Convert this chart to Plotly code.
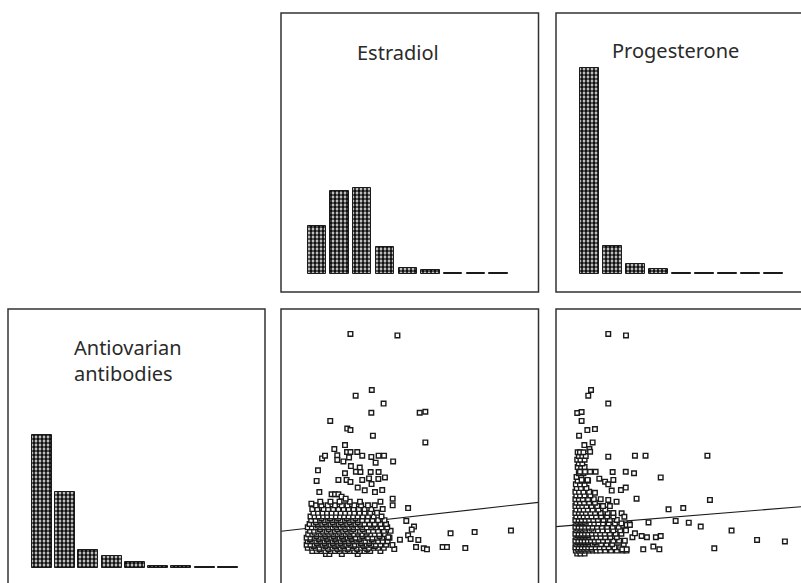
import plotly.graph_objects as go

W, H = 801, 583

# ---- histogram bin counts (nine equal-width bins per variable) ----
bin_mid = [0.5, 1.5, 2.5, 3.5, 4.5, 5.5, 6.5, 7.5, 8.5]
estradiol_counts = [96, 166, 172, 54, 12, 8, 3, 3, 3]
progesterone_counts = [412, 56, 20, 10, 3, 3, 3, 3, 3]
antibody_counts = [266, 152, 36, 24, 12, 3, 3, 1, 1]

# ---- least-squares fits: antibodies = intercept + slope * hormone ----
estradiol_fit = (1.115, 0.103)
progesterone_fit = (1.258, 0.076)

# ---- antibodies vs estradiol: dense core, one row per antibody level ----
e2_core_rows = [
    (0.08, [0.9, 1.05, 1.6, 2.3]),
    (0.20, [0.3, 0.5, 0.7, 0.88, 1.12, 1.3, 1.5, 1.75, 1.95, 2.15, 2.4, 2.6, 2.85, 3.3]),
    (0.27, [0.62, 1.02, 1.42, 1.85, 2.28, 2.72]),
    (0.33, [0.1, 0.28, 0.45, 0.62, 0.8, 0.98, 1.2, 1.38, 1.55, 1.72, 1.9, 2.08, 2.25, 2.45, 2.62, 2.8, 3.0, 3.2, 3.45]),
    (0.40, [0.36, 0.88, 1.3, 1.66, 2.12, 2.58, 3.05]),
    (0.46, [0.05, 0.22, 0.4, 0.58, 0.75, 0.92, 1.1, 1.28, 1.45, 1.62, 1.8, 2.0, 2.18, 2.35, 2.52, 2.7, 2.9, 3.1, 3.3, 3.55]),
    (0.53, [0.5, 0.84, 1.2, 1.54, 1.9, 2.44, 2.8]),
    (0.60, [0.1, 0.3, 0.48, 0.66, 0.84, 1.02, 1.2, 1.38, 1.56, 1.74, 1.92, 2.1, 2.28, 2.46, 2.64, 2.82, 3.0, 3.2, 3.4, 3.62]),
    (0.67, [0.2, 0.58, 0.94, 1.29, 1.66, 2.02, 2.36, 2.92]),
    (0.74, [0.05, 0.22, 0.4, 0.6, 0.78, 0.96, 1.14, 1.32, 1.5, 1.68, 1.86, 2.04, 2.22, 2.4, 2.58, 2.76, 2.95, 3.15, 3.38, 3.7]),
    (0.81, [0.48, 0.87, 1.24, 1.6, 1.96, 2.5, 3.26]),
    (0.88, [0.12, 0.3, 0.5, 0.68, 0.86, 1.05, 1.23, 1.41, 1.6, 1.78, 1.96, 2.14, 2.32, 2.5, 2.68, 2.86, 3.05, 3.25, 3.5]),
    (0.95, [0.4, 0.78, 1.14, 1.5, 1.88, 2.3, 2.7]),
    (1.02, [0.2, 0.38, 0.56, 0.75, 0.93, 1.12, 1.3, 1.48, 1.66, 1.84, 2.02, 2.2, 2.4, 2.6, 2.78, 2.98, 3.2, 3.45, 3.75]),
    (1.09, [0.64, 1.02, 1.4, 1.76, 2.1, 2.52]),
    (1.16, [0.1, 0.28, 0.46, 0.65, 0.83, 1.0, 1.2, 1.38, 1.56, 1.75, 1.93, 2.12, 2.3, 2.5, 2.7, 2.9, 3.1, 3.35, 3.6]),
    (1.23, [0.55, 0.92, 1.3, 1.66, 2.04, 2.42, 2.98]),
    (1.30, [0.18, 0.36, 0.55, 0.74, 0.92, 1.1, 1.28, 1.47, 1.65, 1.84, 2.02, 2.2, 2.4, 2.6, 2.82, 3.05, 3.3, 3.55]),
    (1.37, [0.46, 0.84, 1.2, 1.56, 1.94, 2.3]),
    (1.45, [0.25, 0.45, 0.64, 0.82, 1.0, 1.18, 1.37, 1.55, 1.74, 1.92, 2.1, 2.3, 2.5, 2.72, 2.95, 3.2, 3.48]),
    (1.52, [0.7, 1.08, 1.44, 1.82, 2.2]),
    (1.60, [0.22, 0.4, 0.58, 0.78, 0.96, 1.15, 1.34, 1.52, 1.7, 1.9, 2.1, 2.3, 2.52, 2.75, 3.0, 3.35]),
    (1.75, [0.35, 0.55, 0.75, 0.95, 1.15, 1.35, 1.55, 1.75, 1.95, 2.15, 2.38, 2.6, 2.85, 3.15]),
    (1.90, [0.3, 0.52, 0.8, 1.0, 1.22, 1.45, 1.68, 1.9, 2.12, 2.35, 2.6, 2.9, 3.4]),
    (2.05, [0.45, 0.7, 0.98, 1.3, 1.6, 1.85, 2.15, 2.45, 2.75, 3.05]),
    (2.20, [0.65, 1.1, 1.5, 1.95, 2.4, 3.3]),
]

# ---- antibodies vs estradiol: scattered observations (estradiol, antibodies) ----
e2_sparse = [
    (1.98, 8.99), (4.05, 8.93), (2.92, 6.72), (2.21, 6.49), (3.44, 6.17),
    (2.90, 5.80), (5.03, 5.80), (5.28, 5.84), (1.09, 5.47), (1.84, 5.16),
    (1.98, 5.10), (2.97, 4.87), (5.28, 4.60), (1.74, 4.49), (1.27, 4.33),
    (1.40, 4.08), (1.40, 3.89), (1.83, 4.21), (1.98, 4.21), (2.28, 4.21),
    (2.50, 4.06), (2.90, 4.01), (3.22, 4.06), (3.46, 4.06), (3.09, 3.78),
    (3.86, 3.83), (0.73, 3.95), (0.86, 4.06), (1.67, 3.83), (1.92, 3.99),
    (0.55, 3.47), (0.49, 3.04), (0.61, 2.59), (0.26, 2.12), (2.00, 3.64),
    (2.39, 3.58), (2.22, 3.41), (2.42, 3.40), (1.74, 3.35), (1.81, 3.08),
    (1.98, 3.00), (1.45, 3.08), (2.87, 3.40), (3.22, 3.40), (2.80, 3.14),
    (3.21, 3.12), (3.50, 3.18), (2.50, 3.08), (2.91, 2.91), (3.06, 2.59),
    (3.38, 2.67), (2.61, 2.66), (2.30, 2.77), (1.15, 2.50), (1.30, 2.50),
    (1.45, 2.50), (1.59, 2.40), (1.77, 2.32), (3.84, 2.32), (3.84, 2.05),
    (4.52, 1.94), (4.44, 1.42), (4.78, 1.19), (4.68, 1.07), (4.52, 0.84),
    (4.63, 0.69), (4.97, 0.65), (4.87, 0.36), (5.21, 0.31), (5.35, 0.27),
    (4.16, 0.66), (6.39, 0.92), (7.45, 0.97), (9.05, 1.03), (6.04, 0.36),
    (6.23, 0.36), (7.04, 0.32), (3.91, 0.28), (3.65, 0.76), (3.83, 0.45),
]

# ---- antibodies vs progesterone: dense core, one row per antibody level ----
pg_core_rows = [
    (0.10, [-0.02, 0.12, 0.3]),
    (0.22, [-0.08, 0.06, 0.2, 0.34, 0.5, 0.66, 0.82, 0.98, 1.2, 1.45, 1.7, 1.95, 2.12]),
    (0.29, [0.0, 0.14, 0.28, 0.42, 0.6]),
    (0.35, [-0.1, 0.04, 0.18, 0.32, 0.46, 0.6, 0.78, 0.95, 1.15, 1.35, 1.6, 1.85]),
    (0.48, [-0.06, 0.08, 0.22, 0.36, 0.5, 0.66, 0.84, 1.02, 1.25, 1.5, 2.0]),
    (0.55, [0.0, 0.15, 0.3, 0.45, 0.75]),
    (0.62, [-0.1, 0.03, 0.17, 0.3, 0.44, 0.58, 0.74, 0.9, 1.1, 1.3, 1.55, 1.8, 2.05]),
    (0.76, [-0.06, 0.08, 0.22, 0.36, 0.5, 0.66, 0.82, 1.0, 1.2, 1.42, 1.7]),
    (0.83, [0.0, 0.14, 0.28, 0.42]),
    (0.90, [-0.1, 0.04, 0.18, 0.32, 0.46, 0.62, 0.8, 0.98, 1.18, 1.4, 1.65, 1.9]),
    (1.04, [-0.06, 0.08, 0.22, 0.36, 0.52, 0.7, 0.88, 1.08, 1.3, 1.55, 1.85, 2.1]),
    (1.11, [0.0, 0.15, 0.3, 0.6]),
    (1.18, [-0.1, 0.04, 0.18, 0.33, 0.48, 0.65, 0.84, 1.05, 1.28, 1.52, 1.78]),
    (1.32, [-0.06, 0.08, 0.22, 0.38, 0.55, 0.72, 0.9, 1.1, 1.35, 1.62, 1.9, 2.25]),
    (1.39, [0.0, 0.14, 0.3]),
    (1.46, [-0.1, 0.04, 0.18, 0.34, 0.5, 0.68, 0.88, 1.12, 1.4, 1.7]),
    (1.60, [-0.06, 0.1, 0.26, 0.42, 0.6, 0.8, 1.02, 1.28, 1.55]),
    (1.74, [-0.1, 0.05, 0.2, 0.36, 0.55, 0.76, 1.0, 1.3, 1.55]),
    (1.88, [-0.06, 0.1, 0.26, 0.44, 0.65, 0.9, 1.2]),
    (2.02, [-0.1, 0.05, 0.2, 0.38, 0.6, 0.85, 1.1, 1.4]),
    (2.16, [-0.06, 0.1, 0.28, 0.5, 0.75]),
    (2.30, [-0.1, 0.05, 0.22, 0.45, 0.7, 1.0]),
    (2.45, [-0.06, 0.1, 0.3, 0.55]),
    (2.60, [-0.1, 0.06, 0.25, 0.5]),
    (2.75, [-0.04, 0.14, 0.38]),
    (2.90, [-0.08, 0.1, 0.3]),
    (3.05, [0.0, 0.2, 0.45]),
    (3.20, [-0.05, 0.15]),
    (3.35, [0.05, 0.25]),
    (3.48, [0.08, 0.22]),
    (3.60, [0.0, 0.15, 0.3]),
    (3.75, [0.05, 0.2]),
    (3.90, [-0.02, 0.12, 0.3]),
    (4.05, [0.05, 0.2, 0.35]),
    (4.20, [0.0, 0.1, 0.25]),
]

# ---- antibodies vs progesterone: scattered observations (progesterone, antibodies) ----
pg_sparse = [
    (1.33, 8.99), (2.10, 8.93), (0.58, 6.72), (0.46, 6.49), (1.33, 6.17),
    (-0.02, 5.79), (0.17, 5.83), (0.17, 5.47), (0.42, 5.10), (0.75, 5.14),
    (0.06, 4.87), (0.65, 4.60), (0.29, 4.49), (0.51, 4.33), (0.54, 4.22),
    (1.33, 4.02), (2.49, 4.06), (2.95, 4.06), (5.64, 4.06),
    (0.10, 3.41), (0.32, 3.41), (0.54, 3.41), (0.78, 3.41), (1.52, 3.40),
    (2.09, 3.41), (2.45, 3.35), (3.61, 3.18), (0.17, 3.08), (0.43, 3.08),
    (0.94, 3.13), (1.19, 3.01), (1.33, 2.90), (1.55, 3.08), (0.75, 2.56),
    (1.88, 2.67), (2.09, 2.77), (1.48, 2.65), (2.56, 2.32), (1.33, 2.27),
    (1.69, 2.20), (5.75, 2.27), (3.95, 1.89), (4.59, 1.94), (4.26, 1.42),
    (4.83, 1.35), (5.35, 1.19), (6.69, 1.03), (7.80, 0.65), (9.01, 0.59),
    (5.94, 0.31), (3.08, 1.36), (2.85, 0.27), (2.78, 0.81), (3.01, 0.76),
    (3.40, 0.76), (3.61, 0.81), (3.29, 0.38), (3.55, 0.27), (2.38, 0.76),
    (2.49, 0.92), (2.13, 1.26), (2.27, 1.26), (1.94, 0.27), (2.13, 0.27),
    (1.91, 1.73), (2.03, 1.59),
]


def core_points(rows):
    xs, ys = [], []
    for level, values in rows:
        for v in values:
            xs.append(v)
            ys.append(level)
    return xs, ys


def sparse_points(pairs):
    return [p[0] for p in pairs], [p[1] for p in pairs]


# ---- panel geometry (pixels on the 801 x 583 page) ----
COL = {"left": (8, 265), "mid": (281, 538.5), "right": (556, 815)}
ROW = {"top": (13, 292), "bottom": (309, 600)}


def px(x):
    return x / W


def py(y):
    return 1 - y / H


INK = "#1a1a1a"
FRAME = "#333333"

# hormone / antibody axis ranges (bins are one unit wide)
e2_range = [-1.079, 10.264]
pg_range = [-0.943, 9.71]
ab_hist_range = [-0.944, 10.086]
ab_scatter_range = [-1.093, 10.0]
count_top_range = [-36, 522]
count_bottom_range = [-30.6, 517.4]

fig = go.Figure()

bar_style = dict(
    color="white",
    line=dict(color=INK, width=1),
    pattern=dict(shape=".", fgcolor="#111111", bgcolor="white", size=4, solidity=0.7, fillmode="replace"),
)

fig.add_trace(go.Bar(x=bin_mid, y=estradiol_counts, width=0.806, marker=bar_style,
                     xaxis="x", yaxis="y", name="Estradiol"))
fig.add_trace(go.Bar(x=bin_mid, y=progesterone_counts, width=0.826, marker=bar_style,
                     xaxis="x2", yaxis="y2", name="Progesterone"))
fig.add_trace(go.Bar(x=bin_mid, y=antibody_counts, width=0.858, marker=bar_style,
                     xaxis="x3", yaxis="y3", name="Antiovarian antibodies"))

# regression lines sit underneath the point clouds
for (b0, b1), rng, xa, ya in [(estradiol_fit, e2_range, "x4", "y4"),
                              (progesterone_fit, pg_range, "x5", "y5")]:
    fig.add_trace(go.Scatter(x=rng, y=[b0 + b1 * rng[0], b0 + b1 * rng[1]], mode="lines",
                             line=dict(color=INK, width=1.15), xaxis=xa, yaxis=ya))

marker_style = dict(symbol="square", size=4.6, color="white", line=dict(color=INK, width=1.4))

for rows, pairs, xa, ya in [(e2_core_rows, e2_sparse, "x4", "y4"),
                            (pg_core_rows, pg_sparse, "x5", "y5")]:
    cx, cy = core_points(rows)
    sx, sy = sparse_points(pairs)
    fig.add_trace(go.Scatter(x=cx + sx, y=cy + sy, mode="markers", marker=marker_style,
                             xaxis=xa, yaxis=ya, cliponaxis=False))

hidden = dict(visible=False, showgrid=False, zeroline=False, fixedrange=True)


def dom_x(col):
    a, b = COL[col]
    return [max(0, px(a)), min(1, px(b))]


def dom_y(row):
    a, b = ROW[row]
    return [max(0, py(b)), min(1, py(a))]


fig.update_layout(
    width=W, height=H,
    margin=dict(l=0, r=0, t=0, b=0),
    paper_bgcolor="white", plot_bgcolor="rgba(0,0,0,0)",
    showlegend=False, bargap=0,
    xaxis=dict(hidden, domain=dom_x("mid"), range=e2_range, anchor="y"),
    yaxis=dict(hidden, domain=dom_y("top"), range=count_top_range, anchor="x"),
    xaxis2=dict(hidden, domain=dom_x("right"), range=pg_range, anchor="y2"),
    yaxis2=dict(hidden, domain=dom_y("top"), range=count_top_range, anchor="x2"),
    xaxis3=dict(hidden, domain=dom_x("left"), range=ab_hist_range, anchor="y3"),
    yaxis3=dict(hidden, domain=dom_y("bottom"), range=count_bottom_range, anchor="x3"),
    xaxis4=dict(hidden, domain=dom_x("mid"), range=e2_range, anchor="y4"),
    yaxis4=dict(hidden, domain=dom_y("bottom"), range=ab_scatter_range, anchor="x4"),
    xaxis5=dict(hidden, domain=dom_x("right"), range=pg_range, anchor="y5"),
    yaxis5=dict(hidden, domain=dom_y("bottom"), range=ab_scatter_range, anchor="x5"),
)

# panel frames
for col, row in [("mid", "top"), ("right", "top"), ("left", "bottom"),
                 ("mid", "bottom"), ("right", "bottom")]:
    x0, x1 = COL[col]
    y0, y1 = ROW[row]
    fig.add_shape(type="rect", xref="paper", yref="paper",
                  x0=px(x0), x1=px(x1), y0=py(y1), y1=py(y0),
                  line=dict(color=FRAME, width=1.5), fillcolor="rgba(0,0,0,0)", layer="above")

title_font = dict(family="Noto Sans", size=20, color="#2a2a2a")
fig.add_annotation(text="Estradiol", xref="paper", yref="paper", x=px(397.7), y=py(52.5),
                   xanchor="center", yanchor="middle", showarrow=False, font=title_font)
fig.add_annotation(text="Progesterone", xref="paper", yref="paper", x=px(675.5), y=py(50.5),
                   xanchor="center", yanchor="middle", showarrow=False, font=title_font)
fig.add_annotation(text="Antiovarian<br>antibodies", xref="paper", yref="paper", x=px(72), y=py(360),
                   xanchor="left", yanchor="middle", align="left", showarrow=False, font=title_font)

fig.write_html("out.html")
